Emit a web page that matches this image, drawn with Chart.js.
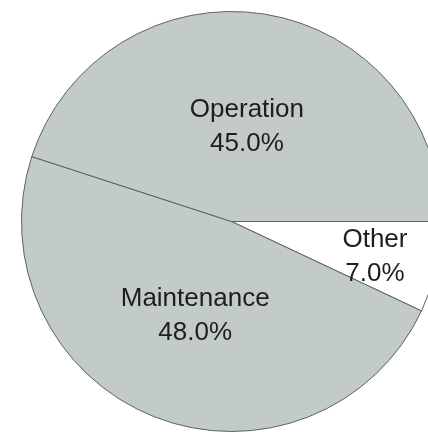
<!DOCTYPE html>
<html>
<head>
<meta charset="utf-8">
<script src="https://cdn.jsdelivr.net/npm/chart.js@4"></script>
<style>
html,body{margin:0;padding:0;background:#fff;}
#wrap{width:428px;height:432px;overflow:hidden;position:relative;}
#c{position:absolute;left:0;top:0;}
</style>
</head>
<body>
<div id="wrap"><canvas id="c" width="460" height="450"></canvas></div>
<script>
let labels=["Other","Maintenance","Operation"];
let shares=[7.0,48.0,45.0];
let colors=["#ffffff","#c3cbc6","#c3cbc6"];

// labels drawn inside the slices, two lines each
let sliceText={
  id:"sliceText",
  afterDatasetsDraw(chart){
    let ctx=chart.ctx;
    let arcs=chart.getDatasetMeta(0).data;
    ctx.save();
    ctx.font="26px 'Liberation Sans', Arial, sans-serif";
    ctx.fillStyle="#1e1e1e";
    ctx.textAlign="center";
    ctx.textBaseline="middle";
    arcs.forEach((a,i)=>{
      let p=a.getProps(["x","y","startAngle","endAngle","outerRadius"],true);
      let mid=(p.startAngle+p.endAngle)/2;
      let f=shares[i]<10?0.70:0.47;
      let x=p.x+Math.cos(mid)*p.outerRadius*f;
      let y=p.y+Math.sin(mid)*p.outerRadius*f;
      ctx.fillText(labels[i],x,y-14);
      ctx.fillText(shares[i].toFixed(1)+"%",x,y+20);
    });
    ctx.restore();
  }
};

new Chart(document.getElementById("c"),{
  type:"pie",
  data:{labels:labels,datasets:[{data:shares,backgroundColor:colors,borderColor:"#5d625f",borderWidth:1}]},
  options:{
    responsive:false,
    animation:false,
    rotation:90,
    layout:{padding:{left:21,right:18,top:11,bottom:18}},
    plugins:{legend:{display:false},tooltip:{enabled:false}}
  },
  plugins:[sliceText]
});
</script>
</body>
</html>
